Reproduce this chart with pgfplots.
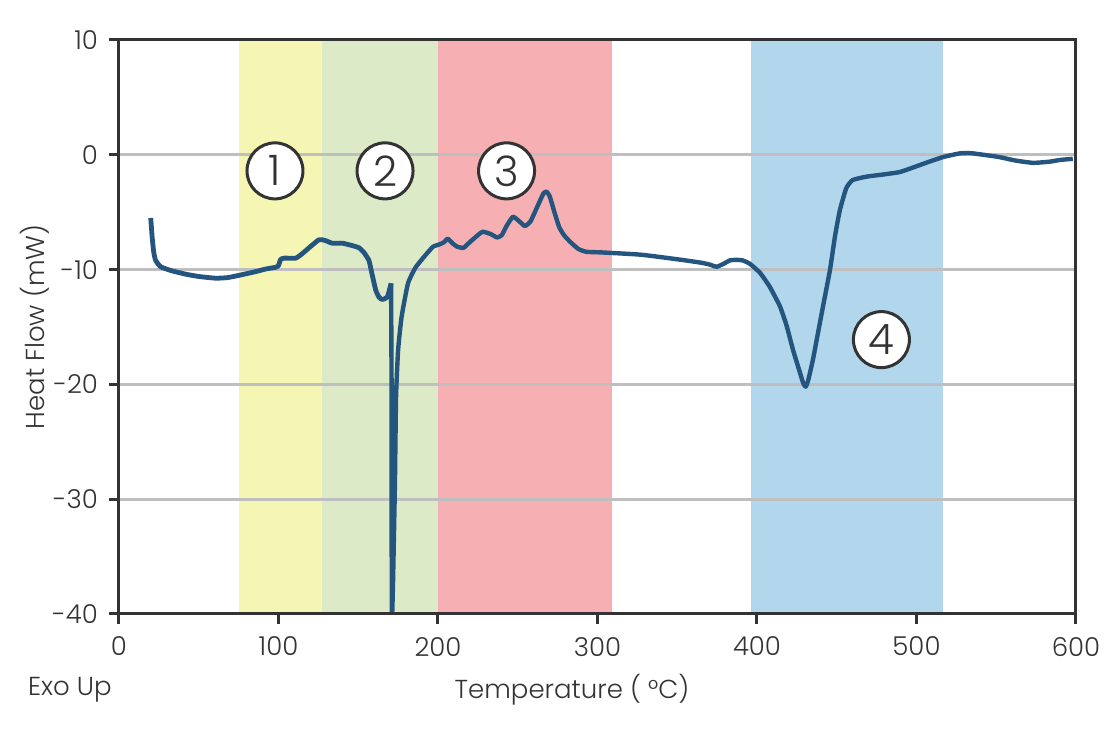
\documentclass[border=0pt]{standalone}
\usepackage{pgfplots}
\pgfplotsset{compat=1.18}
\usepackage{fontspec}
\setmainfont{Poppins}[UprightFont=* Light]
\definecolor{ylw}{HTML}{F6F6B4}
\definecolor{grn}{HTML}{DDEAC8}
\definecolor{rd}{HTML}{F6B0B3}
\definecolor{blu}{HTML}{B2D6EC}
\definecolor{crv}{HTML}{24557F}
\definecolor{grd}{HTML}{BFBFBF}
\definecolor{dk}{HTML}{333333}
\begin{document}
\begin{tikzpicture}
\useasboundingbox (-59.5pt,-59pt) rectangle (495.5pt,307pt);
\begin{axis}[
  scale only axis, width=478.5pt, height=287pt,
  xmin=0, xmax=600, ymin=-40, ymax=10,
  xtick={0,100,...,600}, ytick={-40,-30,...,10},
  yticklabels={-40,-30,-20,-10,0,10},
  xtick pos=left, ytick pos=left, tick align=outside,
  major tick length=5pt,
  axis line style={dk, line width=1.5pt},
  every tick/.style={dk, line width=1.5pt},
  axis on top,
  tick label style={font=\fontsize{13}{13}\selectfont, text=dk},
  /pgf/number format/assume math mode=true,
  xticklabel style={yshift=-3pt},
  yticklabel style={xshift=-2pt},
  clip=true,
]
\addplot[draw=none, fill=ylw] coordinates {(75,-40) (75,10) (127,10) (127,-40)} -- cycle;
\addplot[draw=none, fill=grn] coordinates {(127,-40) (127,10) (200,10) (200,-40)} -- cycle;
\addplot[draw=none, fill=rd] coordinates {(200,-40) (200,10) (309,10) (309,-40)} -- cycle;
\addplot[draw=none, fill=blu] coordinates {(396,-40) (396,10) (516.5,10) (516.5,-40)} -- cycle;
\addplot[grd, line width=1.5pt] coordinates {(0,-30) (600,-30)};
\addplot[grd, line width=1.5pt] coordinates {(0,-20) (600,-20)};
\addplot[grd, line width=1.5pt] coordinates {(0,-10) (600,-10)};
\addplot[grd, line width=1.5pt] coordinates {(0,0) (600,0)};
\addplot[crv, line width=2.4pt, smooth, tension=0.3, line join=round] coordinates {
(19.9,-5.5) (20.8,-7.2) (21.8,-8.5) (23,-9.2) (26.1,-9.75) (33,-10.1) (41.8,-10.4)
(50,-10.6) (60.6,-10.75) (68,-10.7) (75.3,-10.5) (85,-10.2) (92,-9.95) (98.2,-9.8)
(99.8,-9.7) (101.4,-9.1) (104,-9.0) (110.8,-9.0) (115,-8.6) (120,-8.0) (125.4,-7.4)
(129,-7.45) (133.7,-7.7) (140,-7.7) (146,-7.9) (150.5,-8.1) (153.5,-8.5) (156.7,-9.2)
(158.5,-10.3) (161,-11.8) (163,-12.4) (165,-12.6) (168.2,-12.4) (170.6,-11.2)
};
\addplot[crv, line width=2.2pt, line join=round] coordinates {
(170.6,-11.2) (170.9,-20) (171,-40)
};
\addplot[crv, line width=2.2pt, smooth, tension=0.3, line join=round] coordinates {
(171.3,-40) (171.8,-37.3) (173,-28.6) (173.7,-21.1) (175,-17) (177.2,-14.1) (181.2,-11.2)
(186,-9.8) (193,-8.6) (197,-8.0) (201,-7.8) (204,-7.6) (206,-7.3) (209,-7.7)
(212,-8.0) (216,-8.1) (220,-7.6) (225,-7.0) (228,-6.7) (233,-6.9) (237,-7.2)
(240,-7.0) (243,-6.2) (247,-5.4) (251,-5.8) (254.5,-6.2) (258,-5.8) (262,-4.6)
(266,-3.4) (268,-3.2) (270,-3.6) (273,-5.0) (276,-6.3) (279,-7.0) (283,-7.6)
(288,-8.2) (293,-8.45) (302,-8.5) (327,-8.7) (350,-9.1) (365,-9.4) (370,-9.55)
(374.7,-9.75) (379,-9.5) (383,-9.2) (387,-9.15) (391,-9.2) (395.6,-9.5) (402,-10.3)
(408,-11.5) (414.4,-13.2) (418.6,-14.9) (422.6,-17.0) (427,-19.0) (429,-19.9) (430.5,-20.2)
(432,-19.7) (435,-17.9) (438,-15.7) (441.4,-13.2) (445.8,-10.0) (448.9,-7.1) (452,-4.8)
(456,-2.9) (460,-2.2) (468.8,-1.9) (480,-1.7) (489.6,-1.5) (500,-1.0) (508,-0.6)
(516.6,-0.2) (527,0.12) (533.6,0.15) (542,0.0) (552,-0.2) (562,-0.5) (573,-0.7)
(583.5,-0.6) (590,-0.45) (598,-0.35)
};
\begin{scope}[every node/.style={circle, draw=dk, line width=1.5pt, fill=white, minimum size=28pt, inner sep=0pt, text=dk, font=\fontsize{21}{21}\selectfont}]
\node at (axis cs:97.8,-1.4) {1};
\node at (axis cs:166.8,-1.4) {2};
\node at (axis cs:243,-1.4) {3};
\node at (axis cs:478,-16.1) {4};
\end{scope}
\end{axis}
\node[rotate=90, text=dk, font=\fontsize{13}{13}\selectfont] at (-42pt,143.5pt) {Heat Flow (mW)};
\node[text=dk, font=\fontsize{13}{13}\selectfont] at (226.5pt,-38pt) {Temperature ( °C)};
\node[anchor=west, text=dk, font=\fontsize{13}{13}\selectfont] at (-49pt,-38pt) {Exo Up};
\end{tikzpicture}
\end{document}
